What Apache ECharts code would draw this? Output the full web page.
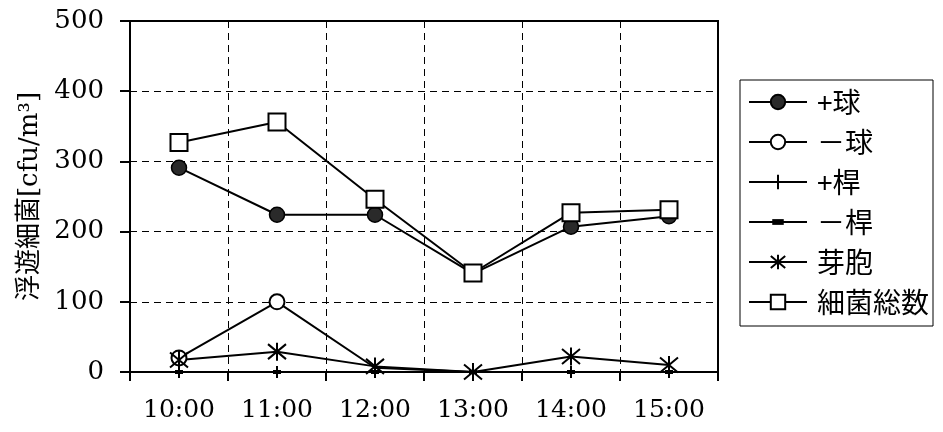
<!DOCTYPE html>
<html>
<head>
<meta charset="utf-8">
<script src="https://cdn.jsdelivr.net/npm/echarts@6/dist/echarts.min.js"></script>
<style>
  html, body { margin: 0; padding: 0; background: #fff; }
  #chart { width: 943px; height: 432px; }
</style>
</head>
<body>
<div id="chart"></div>
<script>
// Sampling times
const times = ['10:00', '11:00', '12:00', '13:00', '14:00', '15:00'];

// Airborne bacteria counts [cfu/m3] per group
const plusCocci = [291, 224, 224, 140, 207, 222];
const minusCocci = [20, 100, 6, 0, 0, 0];
const plusRods = [0, 0, 0, 0, 0, 0];
const minusRods = [0, 0, 0, 0, 0, 0];
const spores = [17, 29, 8, 0, 22, 10];
const totalBacteria = [327, 356, 246, 141, 227, 231];

const yTicks = { min: 0, max: 500, interval: 100 };

const serif = 'DejaVu Serif';
const jp = '"Noto Sans CJK JP"';

// Marker shapes: plus, short bar (padded to a square box so it keeps its shape), asterisk
const PLUS = 'path://M5,0L5,10M0,5L10,5';
const BAR = 'path://M0,0L0,0M1,3L9,3L9,7L1,7ZM10,10L10,10';
const STAR = 'path://M0,0L10,10M10,0L0,10M5,-1L5,11';

function lineSeries(name, data, symbol, size, fill, border) {
  return {
    name: name,
    type: 'line',
    data: data,
    symbol: symbol,
    symbolSize: size,
    showAllSymbol: true,
    lineStyle: { color: '#000', width: 2 },
    itemStyle: { color: fill, borderColor: '#000', borderWidth: border },
    emphasis: { disabled: true },
    animation: false
  };
}

const chart = echarts.init(document.getElementById('chart'), null, { renderer: 'canvas' });
chart.setOption({
  backgroundColor: '#fff',
  animation: false,
  grid: {
    left: 130, right: 225, top: 21, bottom: 60,
    show: true, borderColor: '#000', borderWidth: 2, backgroundColor: 'transparent'
  },
  legend: {
    orient: 'vertical',
    left: 740, top: 80,
    borderColor: '#000', borderWidth: 1,
    padding: [8, 4, 10, 8],
    itemWidth: 58, itemHeight: 18, itemGap: 12,
    textStyle: { fontFamily: jp, fontSize: 28, lineHeight: 28, color: '#000', padding: [0, 0, 0, 5] },
    data: ['+球', '－球', '+桿', '－桿', '芽胞', '細菌総数']
  },
  xAxis: {
    type: 'category',
    data: times,
    boundaryGap: true,
    axisLine: { lineStyle: { color: '#000', width: 2 } },
    axisTick: { show: true, length: 9, lineStyle: { color: '#000', width: 2 } },
    axisLabel: { fontFamily: serif, fontSize: 25, color: '#000', margin: 26 },
    splitLine: { show: true, lineStyle: { color: '#000', width: 1, type: [7, 5] } }
  },
  yAxis: {
    type: 'value',
    min: yTicks.min, max: yTicks.max, interval: yTicks.interval,
    name: '浮遊細菌[cfu/m³]',
    nameLocation: 'middle',
    nameRotate: 90,
    nameGap: 84,
    nameTextStyle: { fontFamily: serif + ', ' + jp, fontSize: 26, color: '#000' },
    axisLine: { show: true, lineStyle: { color: '#000', width: 2 } },
    axisTick: { show: true, length: 10, lineStyle: { color: '#000', width: 2 } },
    axisLabel: { fontFamily: serif, fontSize: 26, color: '#000', margin: 26 },
    splitLine: { show: true, lineStyle: { color: '#000', width: 1, type: [7, 5] } }
  },
  series: [
    lineSeries('+球', plusCocci, 'circle', 15, '#2a2a2a', 1.5),
    lineSeries('－球', minusCocci, 'circle', function (v) { return v > 10 ? 15 : 0; }, '#fff', 2),
    lineSeries('+桿', plusRods, PLUS, 12, '#000', 2),
    lineSeries('－桿', minusRods, BAR, 10, '#000', 0),
    lineSeries('芽胞', spores, STAR, 18, '#000', 2),
    lineSeries('細菌総数', totalBacteria, 'rect', 17, '#fff', 2)
  ]
});
</script>
</body>
</html>
